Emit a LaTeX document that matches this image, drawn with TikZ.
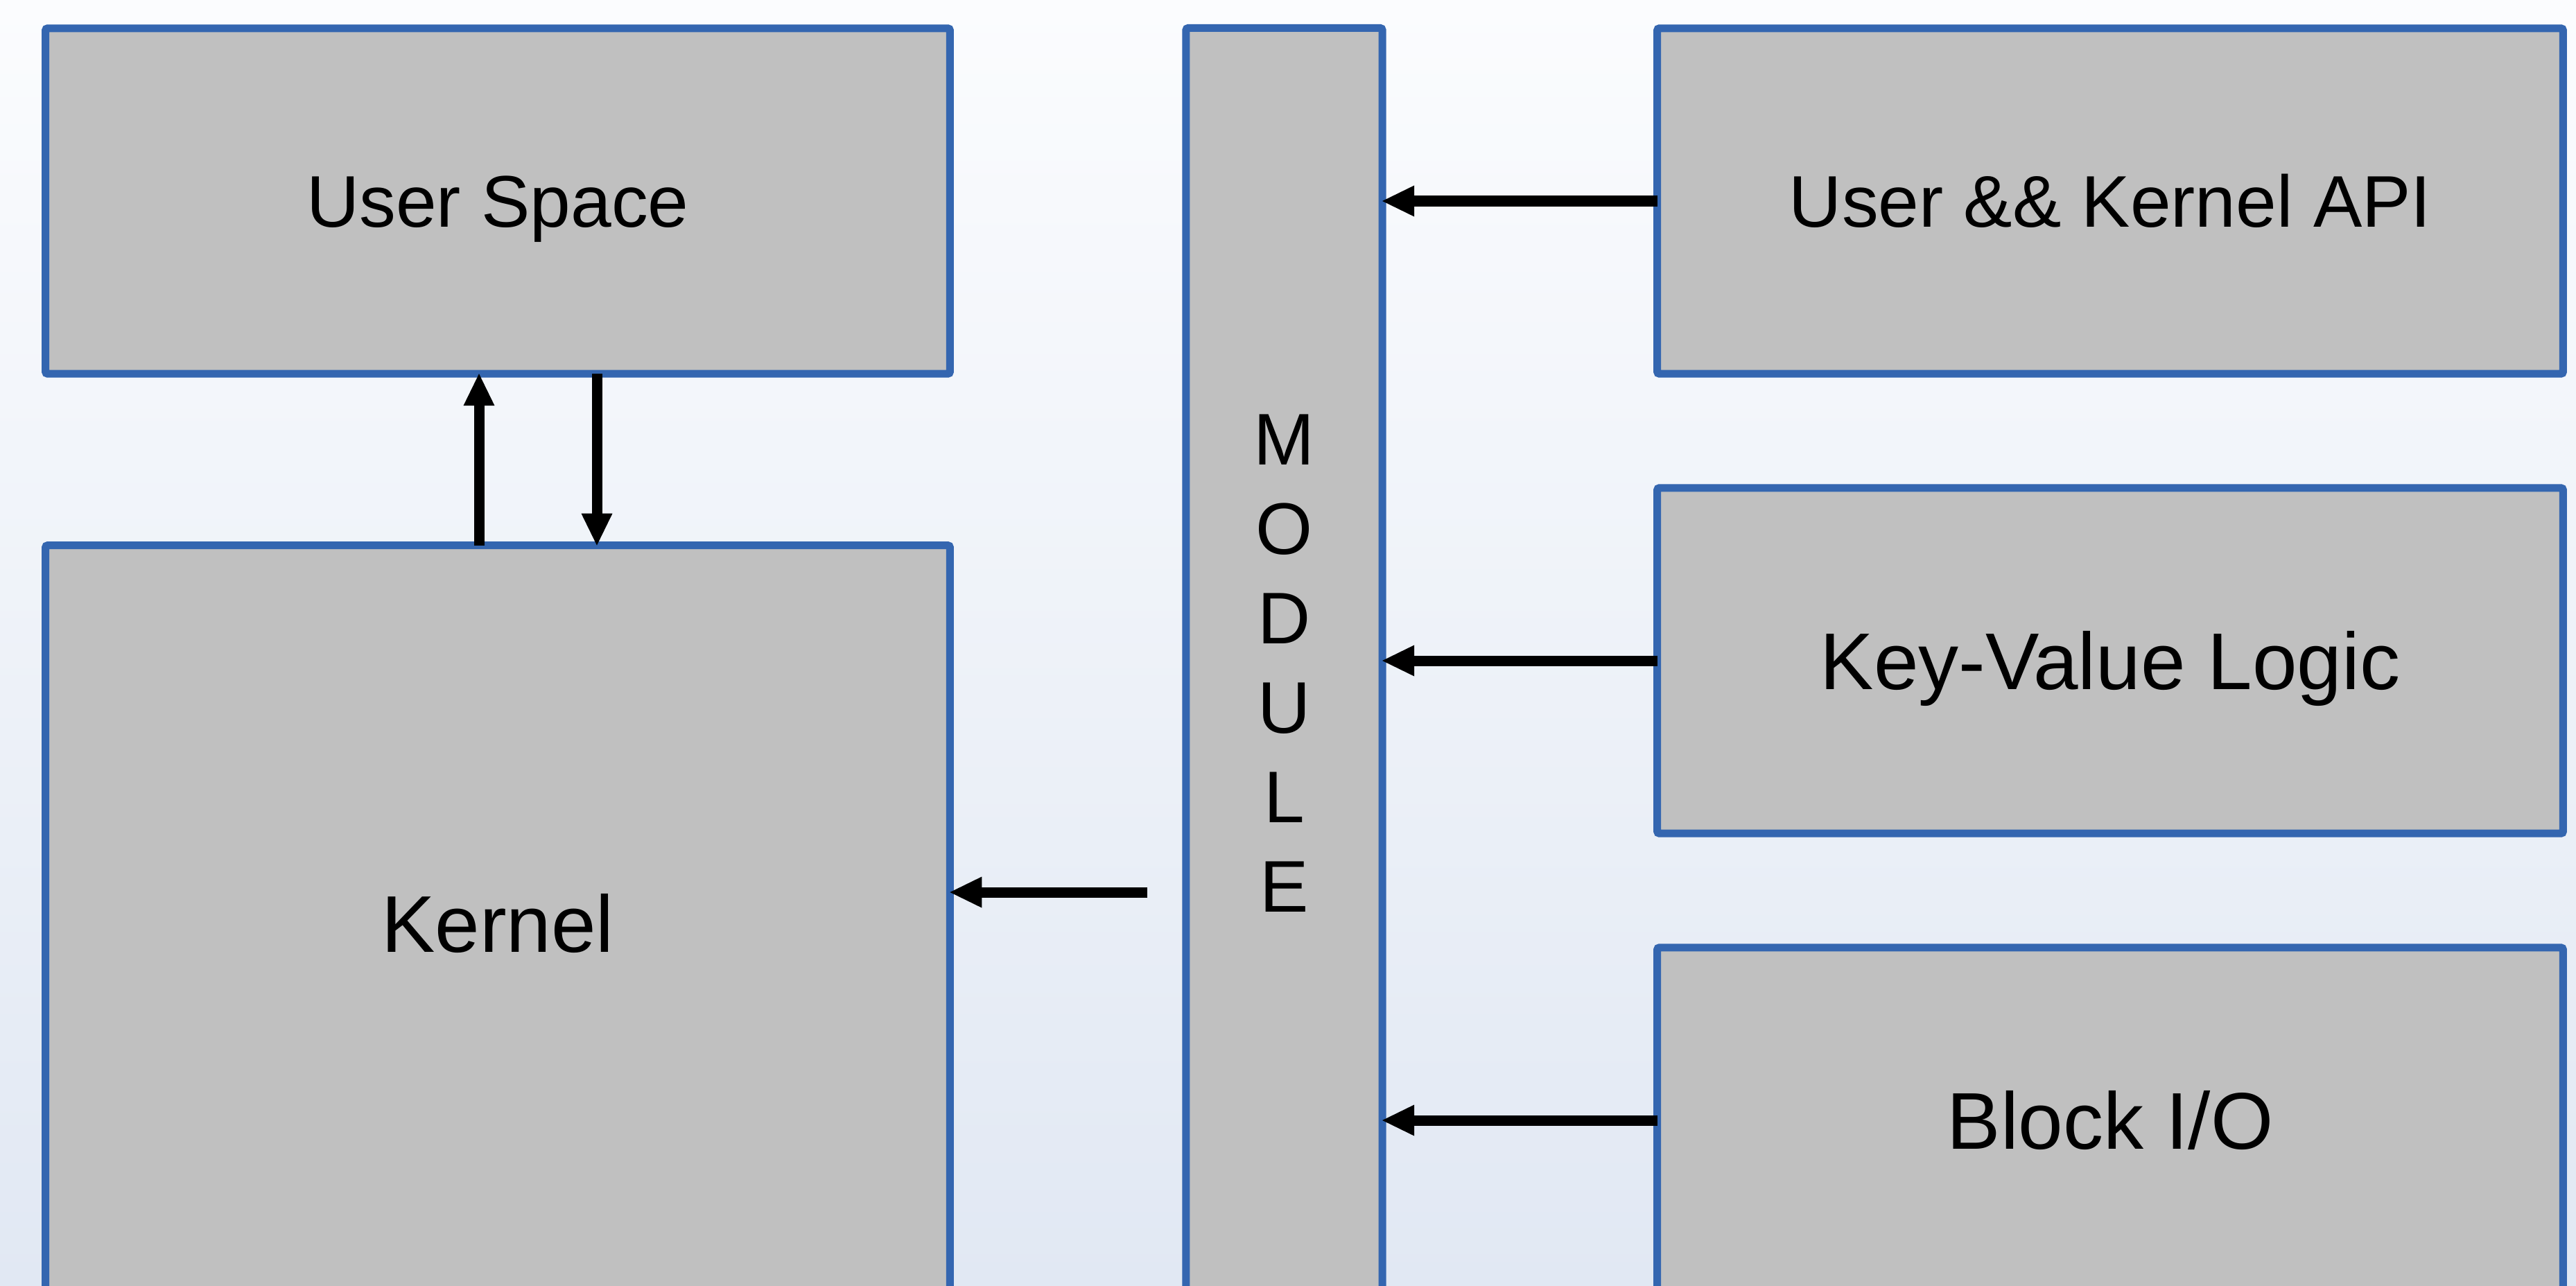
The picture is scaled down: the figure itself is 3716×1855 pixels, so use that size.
\documentclass[tikz,border=0pt]{standalone}
\usepackage{fontspec}
\setmainfont{Liberation Sans}
\usetikzlibrary{arrows.meta}
\definecolor{bordc}{HTML}{3466B0}
\definecolor{fillc}{HTML}{C0C0C0}
\definecolor{bgtop}{HTML}{FBFCFE}
\definecolor{bgbot}{HTML}{E1E8F3}
\tikzset{
  box/.style={draw=bordc, fill=fillc, line width=0.11cm, rounded corners=0.03cm, inner sep=0pt, outer sep=0pt, text=black},
  smalltxt/.style={font=\fontsize{30}{36.7}\selectfont, text height=21.5pt, text depth=0pt},
  bigtxt/.style={font=\fontsize{33}{40}\selectfont, text height=23.6pt, text depth=0pt},
  modtxt/.style={font=\fontsize{30}{36.7}\selectfont, align=center},
  arr/.style={line width=0.15cm, draw=black, -{Triangle[width=0.45cm,length=0.46cm,line width=0pt]}}
}
\begin{document}
\begin{tikzpicture}[x=0.01cm, y=-0.01cm]
\useasboundingbox (0,0) rectangle (3716,1855);
\clip (0,0) rectangle (3716,1855);
\shade[top color=bgtop, bottom color=bgbot] (0,0) rectangle (3716,1855);

\node[box, smalltxt, minimum width=13.04cm, minimum height=4.98cm] (us) at (718,290) {User Space};
\node[box, bigtxt, minimum width=13.04cm, minimum height=10.90cm] (kernel) at (718,1332) {Kernel};
\node[box, modtxt, minimum width=2.83cm, minimum height=18.32cm] (module) at (1852.5,957) {M\\O\\D\\U\\L\\E};
\node[box, smalltxt, minimum width=13.06cm, minimum height=4.98cm] (api) at (3044,290) {User \&\& Kernel API};
\node[box, bigtxt, minimum width=13.06cm, minimum height=4.98cm] (kv) at (3044,953) {Key-Value Logic};
\node[box, bigtxt, minimum width=13.06cm, minimum height=4.98cm] (bio) at (3044,1616) {Block I/O};

\coordinate (c1) at (691,0);
\coordinate (c2) at (861,0);
\coordinate (m1) at (1655,1287);

\draw[arr] (c1 |- kernel.north) -- (c1 |- us.south);
\draw[arr] (c2 |- us.south) -- (c2 |- kernel.north);
\draw[arr] (m1) -- (m1 -| kernel.east);
\draw[arr] (api.west) -- (api.west -| module.east);
\draw[arr] (kv.west) -- (kv.west -| module.east);
\draw[arr] (bio.west) -- (bio.west -| module.east);
\end{tikzpicture}
\end{document}
